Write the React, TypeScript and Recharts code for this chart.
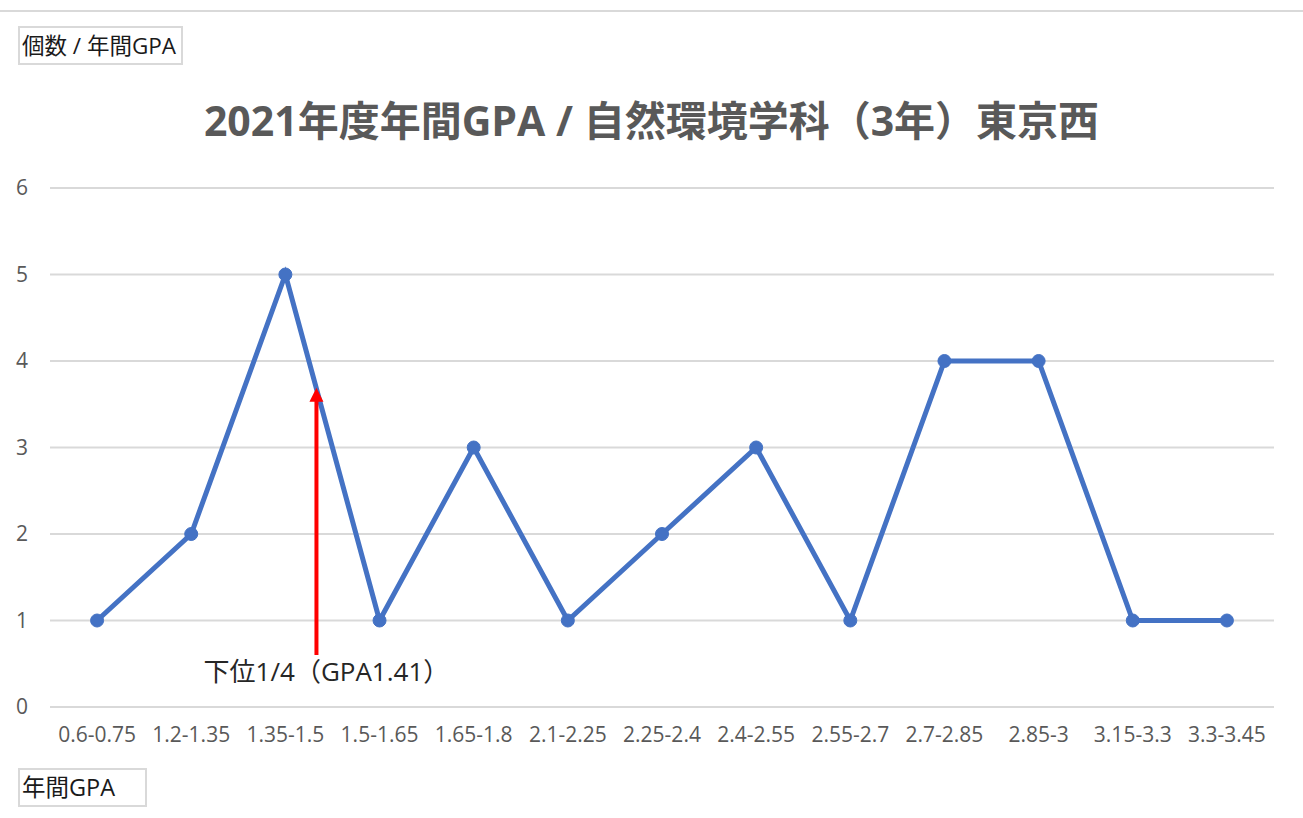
import {
  LineChart,
  Line,
  XAxis,
  YAxis,
  CartesianGrid,
  ReferenceLine,
} from "recharts";

const categories = [
  "0.6-0.75",
  "1.2-1.35",
  "1.35-1.5",
  "1.5-1.65",
  "1.65-1.8",
  "2.1-2.25",
  "2.25-2.4",
  "2.4-2.55",
  "2.55-2.7",
  "2.7-2.85",
  "2.85-3",
  "3.15-3.3",
  "3.3-3.45",
];
const counts = [1, 2, 5, 1, 3, 1, 2, 3, 1, 4, 4, 1, 1];
const yTicks = [0, 1, 2, 3, 4, 5, 6];

// lower quartile marker (GPA 1.41 sits inside the 1.35-1.5 bin)
const quartileX = 2.33;
const arrowFrom = 0.6;
const arrowTo = 3.69;

const FONT = "'Open Sans', 'Noto Sans CJK JP', sans-serif";
const LINE_BLUE = "#4472C4";
const GRID = "#d9d9d9";
const TEXT = "#595959";

const chartData = categories.map((name, i) => ({ i, name, count: counts[i] }));

function Arrow(props: any) {
  const { x1, y1, y2 } = props;
  const bottom = Math.max(y1, y2);
  const top = Math.min(y1, y2);
  return (
    <g>
      <line x1={x1} y1={bottom} x2={x1} y2={top + 12} stroke="#ff0000" strokeWidth={4} />
      <polygon
        points={`${x1 - 7},${top + 14} ${x1 + 7},${top + 14} ${x1},${top}`}
        fill="#ff0000"
      />
      <text
        x={x1 + 10}
        y={bottom + 26}
        textAnchor="middle"
        fontSize={26}
        fill="#262626"
        fontFamily={FONT}
      >
        下位1/4（GPA1.41）
      </text>
    </g>
  );
}

const boxStyle: React.CSSProperties = {
  position: "absolute",
  border: `2px solid ${GRID}`,
  fontSize: 23.5,
  color: "#1a1a1a",
  fontFamily: FONT,
  lineHeight: "35px",
  paddingLeft: 2,
  boxSizing: "border-box",
  background: "#fff",
  whiteSpace: "nowrap",
  overflow: "hidden",
};

export default function App() {
  return (
    <div
      style={{
        position: "fixed",
        left: 0,
        top: 0,
        width: 1303,
        height: 818,
        background: "#fff",
        fontFamily: FONT,
      }}
    >
      <div
        style={{
          position: "absolute",
          left: 0,
          top: 10,
          width: 1303,
          height: 2,
          background: GRID,
        }}
      />
      <div
        style={{
          position: "absolute",
          left: 0,
          top: 93,
          width: 1303,
          textAlign: "center",
          fontSize: 41,
          fontWeight: 700,
          color: TEXT,
          lineHeight: "54px",
        }}
      >
        2021年度年間GPA / 自然環境学科（3年）東京西
      </div>
      <LineChart
        width={1303}
        height={818}
        data={chartData}
        margin={{ top: 188, right: 29, left: 0, bottom: 111 - 60 }}
        style={{ position: "absolute", left: 0, top: 0 }}
      >
        <CartesianGrid vertical={false} stroke={GRID} strokeWidth={2} />
        <XAxis
          dataKey="i"
          type="number"
          domain={[-0.5, categories.length - 0.5]}
          ticks={categories.map((_, i) => i)}
          tickFormatter={(v: number) => categories[v] ?? ""}
          interval={0}
          height={60}
          axisLine={{ stroke: GRID, strokeWidth: 2 }}
          tickLine={false}
          tickSize={0}
          tickMargin={20}
          tick={{ fontSize: 21, fill: TEXT, fontFamily: FONT }}
        />
        <YAxis
          domain={[0, 6]}
          ticks={yTicks}
          width={50}
          axisLine={false}
          tickLine={false}
          tickSize={0}
          tickMargin={22}
          tick={{ fontSize: 21, fill: TEXT, fontFamily: FONT }}
        />
        <Line
          dataKey="count"
          stroke={LINE_BLUE}
          strokeWidth={5}
          dot={{ r: 6.5, fill: LINE_BLUE, stroke: LINE_BLUE, strokeWidth: 1 }}
          isAnimationActive={false}
        />
        <ReferenceLine
          segment={[
            { x: quartileX, y: arrowFrom },
            { x: quartileX, y: arrowTo },
          ]}
          shape={Arrow}
        />
      </LineChart>
      <div style={{ ...boxStyle, fontSize: 22.5, left: 18, top: 26, width: 165, height: 39 }}>
        個数 / 年間GPA
      </div>
      <div style={{ ...boxStyle, left: 18, top: 768, width: 129, height: 39 }}>
        年間GPA
      </div>
    </div>
  );
}
